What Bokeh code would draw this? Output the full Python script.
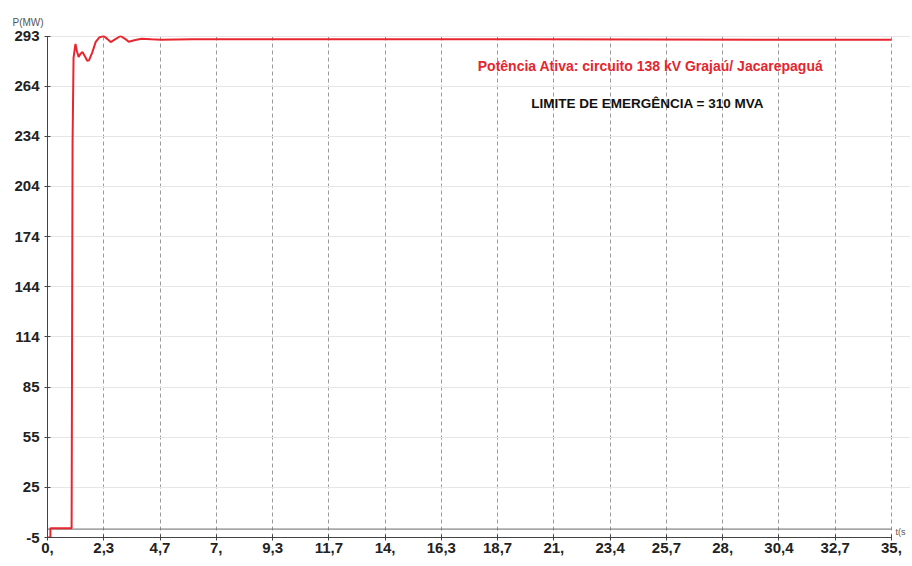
from bokeh.plotting import figure
from bokeh.models import Range1d, FixedTicker, Label, Title
from bokeh.embed import file_html
from bokeh.resources import INLINE

# data
t = [0.0, 0.12, 0.12, 1.0, 1.04, 1.08, 1.16, 1.22, 1.29, 1.37, 1.45, 1.55, 1.65, 1.72,
     1.85, 2.0, 2.15, 2.33, 2.5, 2.62, 2.8, 3.03, 3.25, 3.37, 3.6, 3.9, 4.3, 4.7,
     6.0, 10.0, 15.0, 20.0, 25.0, 30.0, 35.0]
p = [-5.0, -5.0, 0.5, 0.5, 230.0, 280.0, 288.3, 284.0, 280.5, 282.5, 283.5, 281.0, 278.2, 278.5,
     283.0, 289.5, 292.2, 293.0, 291.0, 289.4, 291.0, 293.0, 291.0, 289.6, 290.5, 291.4, 291.0, 290.8,
     291.0, 291.0, 291.0, 291.0, 290.9, 290.8, 290.8]

x_ticks = [0, 35/15, 2*35/15, 3*35/15, 4*35/15, 5*35/15, 6*35/15, 7*35/15, 8*35/15,
           9*35/15, 10*35/15, 11*35/15, 12*35/15, 13*35/15, 14*35/15, 35]
x_labels = ["0,", "2,3", "4,7", "7,", "9,3", "11,7", "14,", "16,3", "18,7", "21,",
            "23,4", "25,7", "28,", "30,4", "32,7", "35,"]
y_ticks = [-5 + i * 29.8 for i in range(11)]
y_labels = ["-5", "25", "55", "85", "114", "144", "174", "204", "234", "264", "293"]

# frame: left 47, right edge of canvas 910; x=35 lands at ~891
p_fig = figure(width=910, height=564, output_backend="svg", toolbar_location=None,
               x_range=Range1d(0, 35.79), y_range=Range1d(-5, 293.3),
               min_border_left=47, min_border_right=0, min_border_top=35, min_border_bottom=27)
p_fig.outline_line_color = None
p_fig.background_fill_color = "white"

# axes
for ax in (p_fig.xaxis[0], p_fig.yaxis[0]):
    ax.axis_line_color = "#444444"
    ax.axis_line_width = 1
    ax.major_tick_line_color = "#444444"
    ax.major_tick_in = 3
    ax.major_tick_out = 3
    ax.minor_tick_line_color = None
    ax.major_label_text_font = "Liberation Sans"
    ax.major_label_text_font_style = "bold"
    ax.major_label_text_font_size = "15px"
    ax.major_label_text_color = "#222222"

p_fig.xaxis.bounds = (0, 35)
p_fig.yaxis.bounds = (-5, 293)
p_fig.xaxis.ticker = FixedTicker(ticks=x_ticks)
p_fig.xaxis.major_label_overrides = {xv: lab for xv, lab in zip(x_ticks, x_labels)}
p_fig.xaxis.major_label_standoff = 2
p_fig.yaxis.ticker = FixedTicker(ticks=y_ticks)
p_fig.yaxis.major_label_overrides = {yv: lab for yv, lab in zip(y_ticks, y_labels)}
p_fig.yaxis.major_label_standoff = 5

# grids
p_fig.xgrid.grid_line_color = "#9a9a9a"
p_fig.xgrid.grid_line_dash = "4 3"
p_fig.xgrid.grid_line_width = 1
p_fig.ygrid.grid_line_color = "#e6e6e6"
p_fig.ygrid.grid_line_width = 1

# zero reference line across the time span
p_fig.line([t[0], t[-1]], [0, 0], line_color="#666666", line_width=1)

p_fig.line(t, p, line_color="#e8262f", line_width=2)

p_fig.add_layout(Label(x=603, y=472, x_units="screen", y_units="screen",
                       text="Potência Ativa: circuito 138 kV Grajaú/ Jacarepaguá",
                       text_font="Liberation Sans", text_font_style="bold",
                       text_font_size="14px", text_color="#e3262f",
                       text_align="center", text_baseline="middle"))
p_fig.add_layout(Label(x=602, y=434, x_units="screen", y_units="screen",
                       text="LIMITE DE EMERGÊNCIA  = 310 MVA",
                       text_font="Liberation Sans", text_font_style="bold",
                       text_font_size="13.5px", text_color="#111111",
                       text_align="center", text_baseline="middle"))
p_fig.add_layout(Label(x=848, y=1, x_units="screen", y_units="screen",
                       text="t(s", text_font="Liberation Sans", text_font_size="9px",
                       text_color="#555555", text_align="left", text_baseline="bottom"))
p_fig.add_layout(Title(text="P(MW)", align="left", offset=-35, standoff=15,
                       text_font="Liberation Sans", text_font_size="10px",
                       text_font_style="normal", text_color="#555555"), "above")

open("out.html", "w").write(file_html(p_fig, INLINE))
